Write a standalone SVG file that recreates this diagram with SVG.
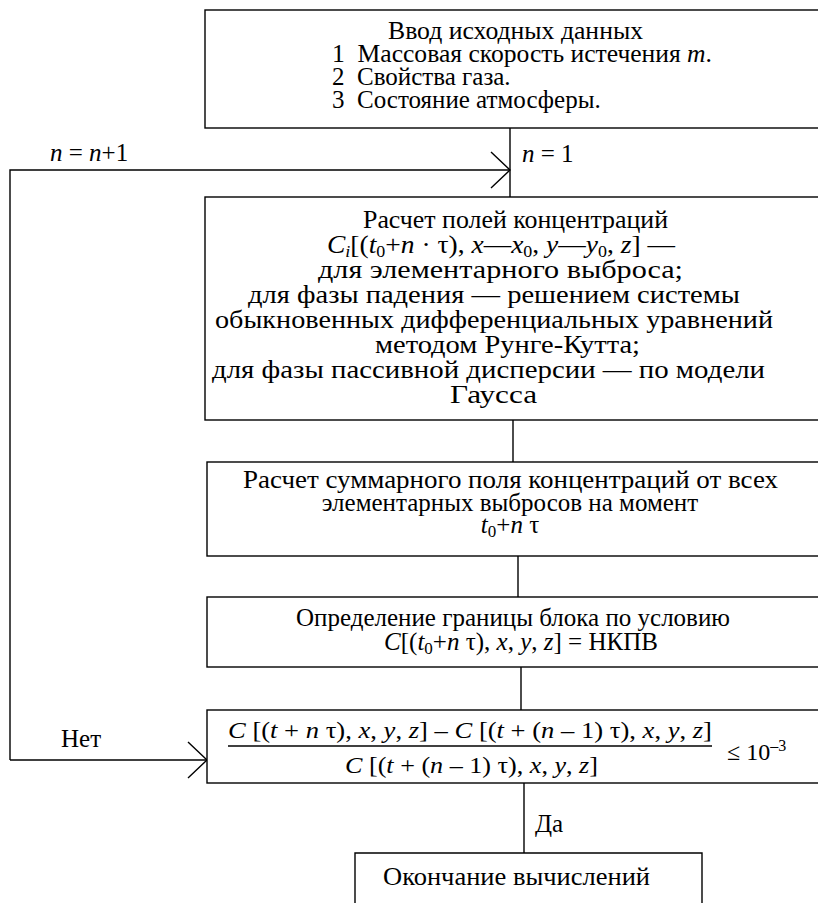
<svg xmlns="http://www.w3.org/2000/svg" width="818" height="903" viewBox="0 0 818 903">
<style>
.t{font-family:"Liberation Serif","Times New Roman",serif;font-size:25px;fill:#000}
.u{font-family:"Liberation Serif","Times New Roman",serif;font-size:26px;fill:#000}
.f{font-family:"Liberation Serif","Times New Roman",serif;font-size:24px;fill:#000}
.i{font-style:italic}
.s{font-size:17px}
.b{fill:#fff;stroke:#000;stroke-width:1.4}
.c{fill:none;stroke:#000;stroke-width:1.4}
</style>
<rect width="818" height="903" fill="#fff"/>
<g id="connectors">
<line class="c" x1="510" y1="128" x2="510" y2="197"/>
<polyline class="c" points="10,760 10,170 510,170"/>
<polyline class="c" points="491,152 510,170 491,188"/>
<line class="c" x1="513" y1="420" x2="513" y2="462"/>
<line class="c" x1="518" y1="556" x2="518" y2="597"/>
<line class="c" x1="521" y1="667" x2="521" y2="710"/>
<line class="c" x1="10" y1="760" x2="207" y2="760"/>
<polyline class="c" points="188,742 207,760 188,778"/>
<line class="c" x1="524" y1="783" x2="524" y2="853"/>
<text class="t" x="50" y="161"><tspan class="i">n</tspan> = <tspan class="i">n</tspan>+1</text>
<text class="t" x="522" y="162"><tspan class="i">n</tspan> = 1</text>
<text class="t" x="61" y="747">Нет</text>
<text class="t" x="535" y="832">Да</text>
</g>
<g id="n1">
<rect class="b" x="205" y="10" width="630" height="118"/>
<text class="t" x="388" y="39" textLength="255" lengthAdjust="spacingAndGlyphs">Ввод исходных данных</text>
<text class="t" x="332" y="62" textLength="380" lengthAdjust="spacingAndGlyphs">1&#160; Массовая скорость истечения <tspan class="i">m</tspan>.</text>
<text class="t" x="332" y="85">2&#160; Свойства газа.</text>
<text class="t" x="332" y="108">3&#160; Состояние атмосферы.</text>
</g>
<g id="n2">
<rect class="b" x="205" y="197" width="630" height="223"/>
<text class="u" x="363" y="228" textLength="305" lengthAdjust="spacingAndGlyphs">Расчет полей концентраций</text>
<text class="u" x="327" y="253" textLength="348" lengthAdjust="spacingAndGlyphs"><tspan class="i">C</tspan><tspan class="i s" dy="4">i</tspan><tspan dy="-4">[(</tspan><tspan class="i">t</tspan><tspan class="s" dy="4">0</tspan><tspan dy="-4">+</tspan><tspan class="i">n</tspan> · τ), <tspan class="i">x</tspan>—<tspan class="i">x</tspan><tspan class="s" dy="4">0</tspan><tspan dy="-4">, </tspan><tspan class="i">y</tspan>—<tspan class="i">y</tspan><tspan class="s" dy="4">0</tspan><tspan dy="-4">, </tspan><tspan class="i">z</tspan>] —</text>
<text class="u" x="318" y="278" textLength="365" lengthAdjust="spacingAndGlyphs">для элементарного выброса;</text>
<text class="u" x="248" y="303" textLength="492" lengthAdjust="spacingAndGlyphs">для фазы падения — решением системы</text>
<text class="u" x="215" y="328" textLength="558" lengthAdjust="spacingAndGlyphs">обыкновенных дифференциальных уравнений</text>
<text class="u" x="375" y="353" textLength="265" lengthAdjust="spacingAndGlyphs">методом Рунге-Кутта;</text>
<text class="u" x="212" y="378" textLength="553" lengthAdjust="spacingAndGlyphs">для фазы пассивной дисперсии — по модели</text>
<text class="u" x="450" y="403" textLength="87" lengthAdjust="spacingAndGlyphs">Гаусса</text>
</g>
<g id="n3">
<rect class="b" x="207" y="462" width="630" height="94"/>
<text class="t" x="243" y="488" textLength="535" lengthAdjust="spacingAndGlyphs">Расчет суммарного поля концентраций от всех</text>
<text class="t" x="510" y="511" text-anchor="middle">элементарных выбросов на момент</text>
<text class="t" x="510" y="533" text-anchor="middle"><tspan class="i">t</tspan><tspan class="s" dy="4">0</tspan><tspan dy="-4">+</tspan><tspan class="i">n</tspan> τ</text>
</g>
<g id="n4">
<rect class="b" x="207" y="597" width="630" height="70"/>
<text class="t" x="513" y="626" text-anchor="middle">Определение границы блока по условию</text>
<text class="t" x="521" y="650" text-anchor="middle"><tspan class="i">C</tspan>[(<tspan class="i">t</tspan><tspan class="s" dy="4">0</tspan><tspan dy="-4">+</tspan><tspan class="i">n</tspan> τ), <tspan class="i">x</tspan>, <tspan class="i">y</tspan>, <tspan class="i">z</tspan>] = НКПВ</text>
</g>
<g id="n5">
<rect class="b" x="207" y="710" width="630" height="73"/>
<text class="f" x="228" y="738" textLength="484" lengthAdjust="spacingAndGlyphs"><tspan class="i">C</tspan> [(<tspan class="i">t</tspan> + <tspan class="i">n</tspan> τ), <tspan class="i">x</tspan>, <tspan class="i">y</tspan>, <tspan class="i">z</tspan>] – <tspan class="i">C</tspan> [(<tspan class="i">t</tspan> + (<tspan class="i">n</tspan> – 1) τ), <tspan class="i">x</tspan>, <tspan class="i">y</tspan>, <tspan class="i">z</tspan>]</text>
<line class="c" x1="228" y1="746" x2="712" y2="746"/>
<text class="f" x="345" y="773" textLength="253" lengthAdjust="spacingAndGlyphs"><tspan class="i">C</tspan> [(<tspan class="i">t</tspan> + (<tspan class="i">n</tspan> – 1) τ), <tspan class="i">x</tspan>, <tspan class="i">y</tspan>, <tspan class="i">z</tspan>]</text>
<text class="f" x="727" y="760">≤  10<tspan font-size="16" dy="-9">–3</tspan></text>
</g>
<g id="n6">
<polyline class="c" points="355,903 355,853 702,853 702,903"/>
<text class="t" x="383" y="885" textLength="267" lengthAdjust="spacingAndGlyphs">Окончание вычислений</text>
</g>
</svg>
